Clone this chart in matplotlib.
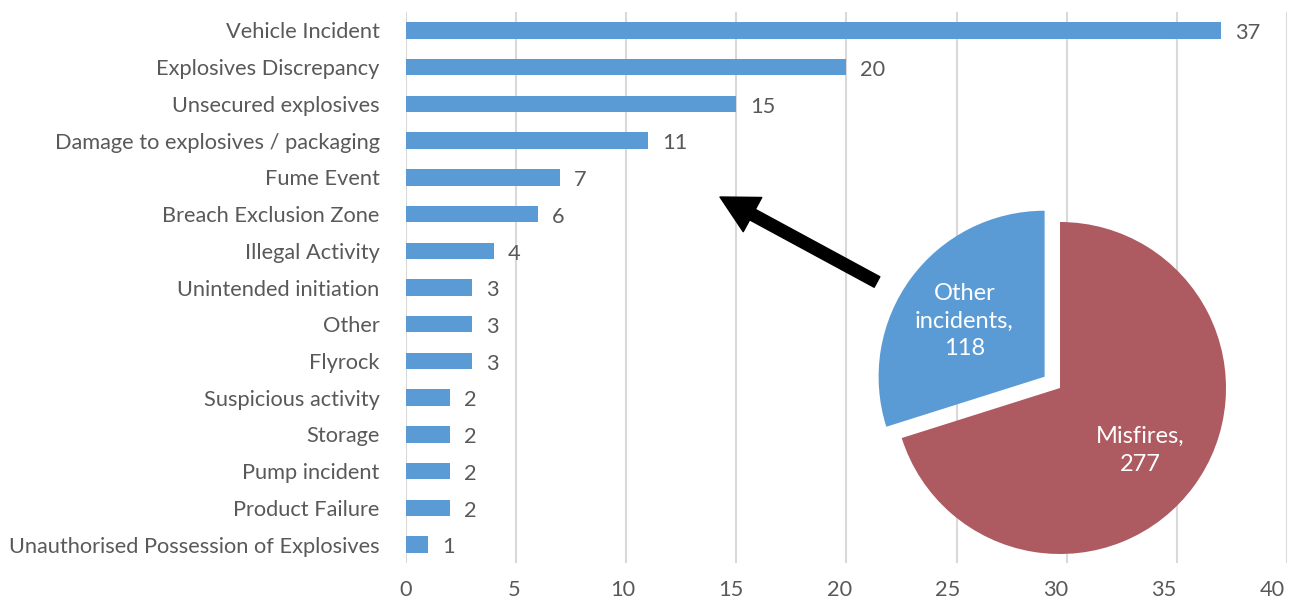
import numpy as np
import matplotlib
matplotlib.use("Agg")
import matplotlib.pyplot as plt
from matplotlib.transforms import ScaledTranslation

# incident categories, top to bottom as in the chart
categories = ["Vehicle Incident", "Explosives Discrepancy", "Unsecured explosives",
              "Damage to explosives / packaging", "Fume Event", "Breach Exclusion Zone",
              "Illegal Activity", "Unintended initiation", "Other", "Flyrock",
              "Suspicious activity", "Storage", "Pump incident", "Product Failure",
              "Unauthorised Possession of Explosives"]
counts = [37, 20, 15, 11, 7, 6, 4, 3, 3, 3, 2, 2, 2, 2, 1]

pie_labels = ["Misfires,\n277", "Other\nincidents,\n118"]
pie_values = [277, 118]

xticks = [0, 5, 10, 15, 20, 25, 30, 35, 40]

plt.rcParams['font.family'] = ['Lato', 'DejaVu Sans']
text_col = "#595959"
blue = "#5B9BD5"
red = "#AE5A61"
fs = 15.7

W, H = 1289, 603
fig = plt.figure(figsize=(W / 100, H / 100), dpi=100)

# bar chart axes (pixel positions)
left, right, top, bottom = 406, 1287, 12, 563
ax = fig.add_axes([left / W, (H - bottom) / H, (right - left) / W, (bottom - top) / H])
y = np.arange(len(categories))
ax.barh(y, counts, height=0.45, color=blue, zorder=2)
ax.set_ylim(len(categories) - 0.5, -0.5)
ax.set_xlim(0, 40)
ax.set_yticks(y)
ax.set_yticklabels(categories, fontsize=fs, color=text_col)
ax.set_xticks(xticks)
ax.set_xticklabels([str(t) for t in xticks], fontsize=fs, color=text_col)
ax.tick_params(axis='y', length=0, pad=19)
ax.tick_params(axis='x', length=0, pad=12)
# excel's axis labels drift slightly left of the gridlines
for t, lab in zip(xticks, ax.get_xticklabels()):
    lab.set_transform(lab.get_transform() + ScaledTranslation(-t * 0.36 / 100, 0, fig.dpi_scale_trans))
ax.grid(axis='x', color="#D9D9D9", linewidth=1.5, zorder=0)
for s in ax.spines.values():
    s.set_visible(False)

for yi, c in zip(y, counts):
    ax.annotate(str(c), (c, yi), xytext=(10, -2), textcoords='offset points',
                ha='left', va='center', fontsize=fs, color=text_col)

# arrow from the pie to the bars
ax.annotate("", xy=(720, H - 197), xycoords='figure pixels',
            xytext=(877, H - 282), textcoords='figure pixels',
            arrowprops=dict(arrowstyle="simple,head_length=1.33,head_width=1.4,tail_width=0.43",
                            mutation_scale=20, color="black", shrinkA=0, shrinkB=0),
            annotation_clip=False)

# pie inset
cx, cy, r = 1060, H - 388, 166
half = 1.2 * r
pax = fig.add_axes([(cx - half) / W, (cy - half) / H, 2 * half / W, 2 * half / H])
wedges, _ = pax.pie(pie_values, colors=[red, blue], startangle=90, counterclock=False,
                    explode=[0, 0.115], radius=1)
pax.set_xlim(-1.2, 1.2)
pax.set_ylim(-1.2, 1.2)
pax.set_aspect('equal')
pax.axis('off')

for w, lab in zip(wedges, pie_labels):
    ang = np.deg2rad((w.theta1 + w.theta2) / 2)
    ox, oy = w.center
    pax.text(ox + 0.6 * np.cos(ang), oy + 0.6 * np.sin(ang) - 0.02, lab,
             ha='center', va='center', color="white", fontsize=17, linespacing=1.4)

fig.savefig("out.png", dpi=100)
